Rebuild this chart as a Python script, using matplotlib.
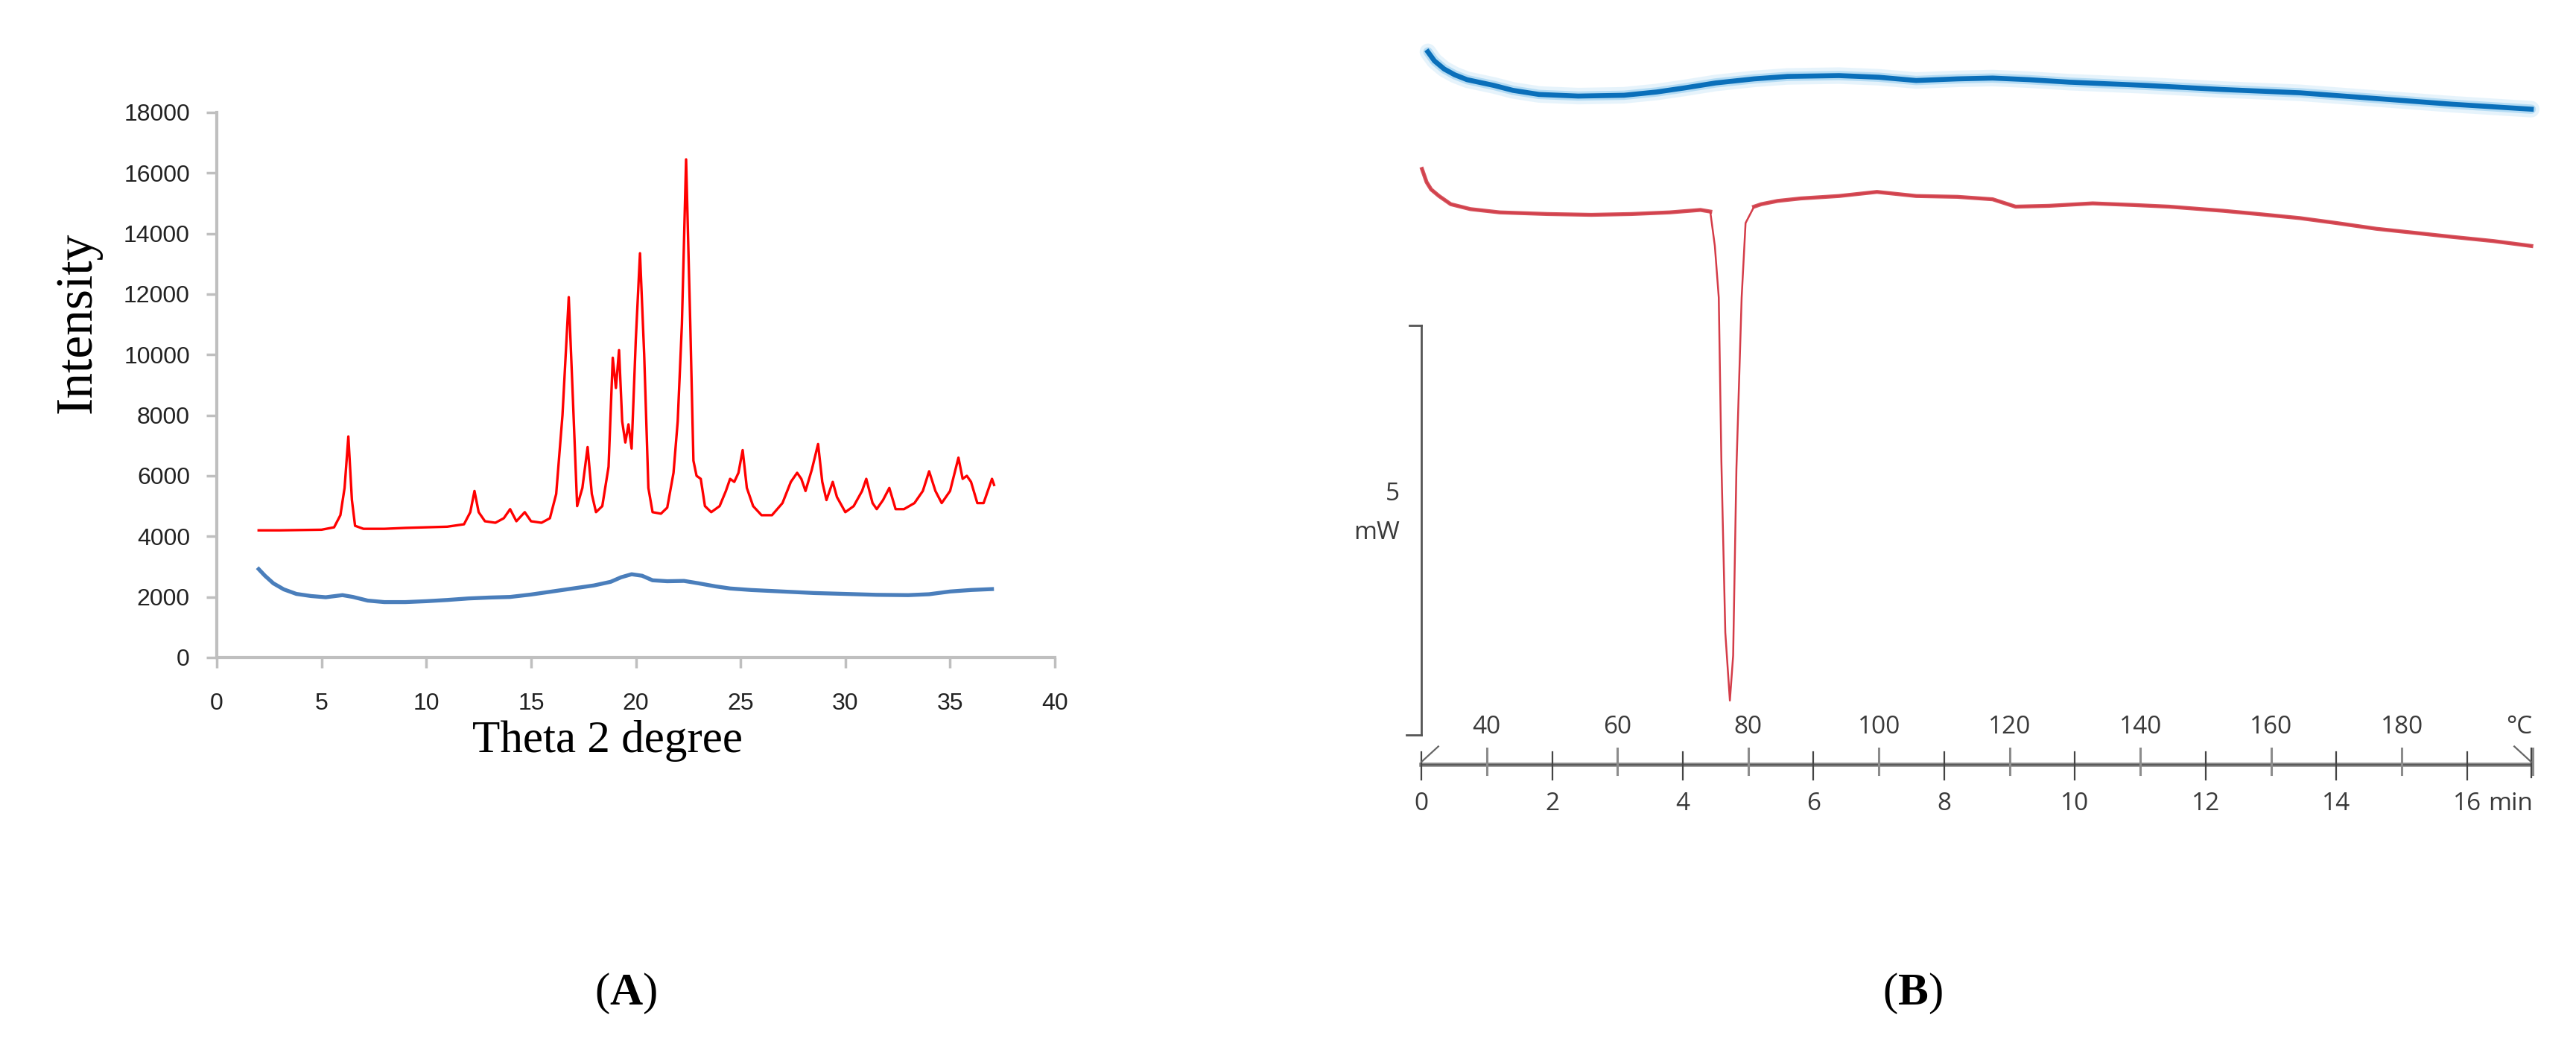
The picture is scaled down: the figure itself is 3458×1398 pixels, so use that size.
import numpy as np
import matplotlib.pyplot as plt

plt.rcParams['mathtext.fontset'] = 'custom'
plt.rcParams['mathtext.rm'] = 'Liberation Serif'
plt.rcParams['mathtext.bf'] = 'Liberation Serif:bold'

# ---- (A) XRD data ----
xrd_red_x = [2.0, 3.0, 4.0, 5.0, 5.6, 5.9, 6.1, 6.28, 6.45, 6.6, 7.0, 8.0, 9.0, 10.0, 11.0, 11.8,
             12.1, 12.3, 12.5, 12.8, 13.3, 13.7, 14.0, 14.3, 14.7, 15.0, 15.5, 15.9, 16.2, 16.5,
             16.8, 17.0, 17.2, 17.45, 17.7, 17.9, 18.1, 18.4, 18.7, 18.9, 19.05, 19.2, 19.35,
             19.5, 19.65, 19.8, 20.0, 20.2, 20.4, 20.6, 20.8, 21.2, 21.5, 21.8, 22.0, 22.2, 22.4,
             22.6, 22.75, 22.9, 23.1, 23.3, 23.6, 24.0, 24.3, 24.5, 24.7, 24.9, 25.1, 25.3, 25.6,
             26.0, 26.5, 27.0, 27.4, 27.7, 27.9, 28.1, 28.4, 28.7, 28.9, 29.1, 29.4, 29.6, 30.0,
             30.4, 30.8, 31.0, 31.3, 31.5, 31.8, 32.1, 32.4, 32.8, 33.3, 33.7, 34.0, 34.3, 34.6,
             35.0, 35.4, 35.6, 35.8, 36.0, 36.3, 36.6, 36.8, 37.0, 37.1]
xrd_red_y = [4200, 4200, 4210, 4220, 4300, 4700, 5600, 7300, 5200, 4350, 4250, 4250, 4280, 4300, 4320, 4400,
             4800, 5500, 4800, 4500, 4450, 4600, 4900, 4500, 4800, 4500, 4450, 4600, 5400, 8000,
             11900, 8500, 5000, 5600, 6950, 5400, 4800, 5000, 6300, 9900, 8900, 10150, 7800,
             7100, 7700, 6900, 10500, 13350, 10000, 5600, 4800, 4750, 4950, 6100, 7800, 11000, 16450,
             11000, 6500, 6000, 5900, 5000, 4800, 5000, 5500, 5900, 5800, 6100, 6850, 5600, 5000,
             4700, 4700, 5100, 5800, 6100, 5900, 5500, 6200, 7050, 5800, 5200, 5800, 5300, 4800,
             5000, 5500, 5900, 5100, 4900, 5200, 5600, 4900, 4900, 5100, 5500, 6150, 5500, 5100,
             5500, 6600, 5900, 6000, 5800, 5100, 5100, 5500, 5900, 5700]

xrd_blue_x = [2.0, 2.3, 2.7, 3.2, 3.8, 4.5, 5.2, 6.0, 6.5, 7.2, 8.0, 9.0, 10.0, 11.0, 12.0, 13.0,
              14.0, 15.0, 16.0, 17.0, 18.0, 18.8, 19.3, 19.8, 20.3, 20.8, 21.5, 22.3, 23.0, 23.8,
              24.5, 25.5, 27.0, 28.5, 30.0, 31.5, 33.0, 34.0, 35.0, 36.0, 37.0]
xrd_blue_y = [2920, 2700, 2450, 2250, 2100, 2030, 1990, 2060, 2000, 1880, 1830, 1830, 1860, 1900, 1950, 1980,
              2000, 2080, 2180, 2280, 2380, 2500, 2650, 2750, 2700, 2550, 2520, 2530, 2450, 2350,
              2280, 2230, 2180, 2130, 2100, 2070, 2060, 2090, 2180, 2230, 2260]

# ---- (B) DSC data: time (min) vs heat flow (mW, arbitrary offset) ----
dsc_blue_t = [0.10, 0.20, 0.35, 0.51, 0.70, 1.11, 1.40, 1.80, 2.40, 3.10, 3.60, 4.03, 4.50, 5.09,
              5.60, 6.39, 7.00, 7.57, 8.20, 8.74, 9.30, 9.91, 11.09, 12.26, 13.44, 14.61, 15.78, 16.98]
dsc_blue_mw = [8.34, 8.23, 8.13, 8.06, 8.00, 7.93, 7.87, 7.82, 7.80, 7.81, 7.85, 7.90, 7.96, 8.01,
               8.04, 8.05, 8.03, 7.99, 8.01, 8.02, 8.00, 7.97, 7.93, 7.88, 7.84, 7.77, 7.70, 7.64]

dsc_red_t = [0.01, 0.08, 0.15, 0.27, 0.45, 0.75, 1.20, 1.93, 2.60, 3.21, 3.80, 4.27, 4.42, 4.49, 4.55,
             4.59, 4.65, 4.72, 4.77, 4.82, 4.90, 4.96, 5.09, 5.20, 5.45, 5.80, 6.39, 6.97, 7.57, 8.20,
             8.74, 9.09, 9.60, 10.27, 10.90, 11.44, 12.26, 12.80, 13.44, 14.00, 14.61, 15.20, 15.78,
             16.40, 16.98]
dsc_red_mw = [6.91, 6.75, 6.66, 6.58, 6.48, 6.42, 6.38, 6.36, 6.35, 6.36, 6.38, 6.41, 6.39, 5.97, 5.34,
              3.34, 1.25, 0.42, 0.97, 3.25, 5.34, 6.25, 6.45, 6.48, 6.52, 6.55, 6.58, 6.63, 6.58, 6.57,
              6.54, 6.45, 6.46, 6.49, 6.47, 6.45, 6.40, 6.36, 6.31, 6.25, 6.18, 6.13, 6.08,
              6.03, 5.97]

time_ticks = list(range(0, 18))
time_labels = ['0', '2', '4', '6', '8', '10', '12', '14', '16']
temp_labels = ['40', '60', '80', '100', '120', '140', '160', '180']
scale_mw = 5

W, H = 3458, 1398
fig = plt.figure(figsize=(W / 100, H / 100), dpi=100)

# ---------------- panel A ----------------
axA = fig.add_axes([291 / W, 1 - 883 / H, (1416 - 291) / W, (883 - 151) / H])
axA.plot(xrd_blue_x, xrd_blue_y, color='#4a7ebb', lw=3.8)
axA.plot(xrd_red_x, xrd_red_y, color='#ff0000', lw=2.4)
axA.set_xlim(0, 40)
axA.set_ylim(0, 18000)
axA.set_xticks(range(0, 41, 5))
axA.set_yticks(range(0, 18001, 2000))
for s in ['top', 'right']:
    axA.spines[s].set_visible(False)
for s in ['left', 'bottom']:
    axA.spines[s].set_color('#bfbfbf')
    axA.spines[s].set_linewidth(3)
axA.tick_params(direction='out', length=10, width=2.5, color='#bfbfbf',
                labelsize=23, labelcolor='#222222')
axA.tick_params(axis='y', pad=16)
axA.tick_params(axis='x', pad=24)
for lab in axA.get_xticklabels() + axA.get_yticklabels():
    lab.set_family('Liberation Sans')

fig.text(105 / W, 1 - 433 / H, 'Intensity', rotation=90, family='Liberation Serif',
         size=50, ha='center', va='center')
fig.text(816 / W, 1 - 1010 / H, 'Theta 2 degree', family='Liberation Serif',
         size=44, ha='center', va='baseline')

# ---------------- panel B ----------------
axB = fig.add_axes([1850 / W, 1 - 1130 / H, (W - 1850) / W, 1130 / H])
axB.set_xlim(-0.661, 17.664)
axB.set_ylim(-1.3, 8.973)
axB.axis('off')

# blue curve with soft glow
axB.plot(dsc_blue_t, dsc_blue_mw, color='#9fd3f2', lw=16, alpha=0.25, solid_capstyle='round')
axB.plot(dsc_blue_t, dsc_blue_mw, color='#5cb3e8', lw=9, alpha=0.35, solid_capstyle='round')
axB.plot(dsc_blue_t, dsc_blue_mw, color='#0a6fba', lw=4.8)

# red curve: thin through the melting dip, thicker elsewhere
red_t = np.array(dsc_red_t)
red_mw = np.array(dsc_red_mw)
in_dip = (red_t > 4.45) & (red_t < 5.0)
axB.plot(red_t, red_mw, color='#d43c48', lw=1.8)
axB.plot(red_t, np.ma.masked_where(in_dip, red_mw), color='#d2414c', lw=3.8, alpha=0.9)

# scale bar
gray_dark = '#555555'
axB.plot([0, 0], [0, scale_mw], color=gray_dark, lw=2)
axB.plot([-0.23, 0], [0, 0], color=gray_dark, lw=2)
axB.plot([-0.18, 0], [scale_mw, scale_mw], color=gray_dark, lw=2)
txt_kw = dict(family='Open Sans', size=24, color='#3a3a3a')
axB.text(-0.33, 2.94, str(scale_mw), ha='right', va='center', **txt_kw)
axB.text(-0.33, 2.47, 'mW', ha='right', va='center', **txt_kw)

# time / temperature axis
line_y = -0.364
axB.plot([0, 16.98], [line_y, line_y], color='#8a8a8a', lw=4)
axB.plot([0, 16.98], [line_y, line_y], color='#5a5a5a', lw=1.5)
for t in time_ticks:
    if t % 2 == 0:
        axB.plot([t, t], [-0.209, -0.545], color='#444444', lw=1.6)
    else:
        axB.plot([t, t], [-0.164, -0.482], color='#8c8c8c', lw=2.2)
axB.plot([16.98, 16.98], [-0.164, -0.52], color='#444444', lw=1.6)
axB.plot([16.72, 16.98], [-0.14, -0.33], color='#666666', lw=1.6)
axB.plot([0, 0.26], [-0.33, -0.14], color='#666666', lw=1.6)

for i, lab in enumerate(temp_labels):
    axB.text(2 * i + 1, 0.10, lab, ha='center', va='center', **txt_kw)
axB.text(16.8, 0.10, '°C', ha='center', va='center', **txt_kw)
for i, lab in enumerate(time_labels):
    axB.text(2 * i, -0.845, lab, ha='center', va='center', **txt_kw)
axB.text(16.32, -0.845, 'min', ha='left', va='center', **txt_kw)

# panel letters
fig.text(840 / W, 1 - 1334 / H, r'($\mathbf{A}$)', family='Liberation Serif', size=44,
         ha='center', va='center')
fig.text(2567 / W, 1 - 1334 / H, r'($\mathbf{B}$)', family='Liberation Serif', size=44,
         ha='center', va='center')

fig.savefig('out.png', dpi=100, facecolor='white')
